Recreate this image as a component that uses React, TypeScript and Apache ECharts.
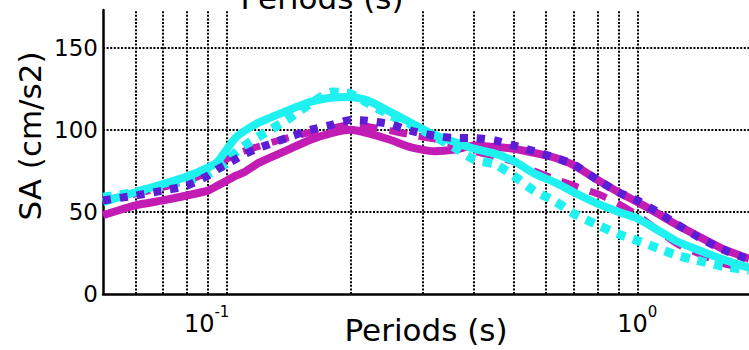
import React, { useEffect, useRef } from "react";
import * as echarts from "echarts";

// Response spectra: spectral acceleration vs. period (log axis)
const periods = [
  0.05, 0.06, 0.07, 0.08, 0.09, 0.095, 0.1, 0.105, 0.11, 0.12, 0.14, 0.16, 0.18,
  0.2, 0.22, 0.25, 0.28, 0.32, 0.36, 0.4, 0.45, 0.5, 0.56, 0.63, 0.7, 0.8, 0.9,
  1.0, 1.12, 1.25, 1.4, 1.6, 1.87,
];

const magentaSolid = [
  48, 54, 57, 60, 63, 66, 69, 72, 74, 80, 87.5, 94, 98, 100, 98, 94, 89.5, 87,
  88, 90.5, 89.5, 88.5, 86, 83, 78.5, 69.5, 62, 56, 49, 42, 35.5, 28, 21.5,
];

const magentaDashed = [
  57, 61, 65, 69, 74, 78, 82, 85, 87, 90, 95, 98.5, 101, 103, 102, 99.5, 97,
  94.5, 91, 87, 84, 80.5, 75, 70, 66, 61, 55, 48, 39, 30.5, 25, 19, 15,
];

const cyanSolid = [
  56, 62, 67, 71.5, 77, 80.5, 88, 95, 99, 104.5, 111.5, 117, 119.5, 120, 118,
  111, 104.5, 97, 92.5, 88.5, 85.5, 81, 73.5, 68, 62, 55, 50, 46, 39, 32, 27,
  21.5, 16,
];

const cyanDotted = [
  59, 62, 66, 69, 73, 76, 80, 86, 90, 96, 106, 116, 123, 122, 116.5, 109,
  103.5, 96, 89, 82, 79, 72, 63, 56.5, 49, 42, 36.5, 32.5, 28, 23.5, 20.5, 17,
  14.5,
];

const purpleDotted = [
  57, 60, 63, 66, 72, 76, 79, 82, 85, 89, 95, 100, 103, 106, 105.5, 103.5,
  99.5, 96.5, 95, 95, 93.5, 90.5, 87, 83, 79, 69.5, 62, 57, 50, 42.5, 35, 27.5,
  21,
];

// periods that get a vertical grid line (decades plus their minor steps)
const gridPeriods = [
  0.06, 0.07, 0.08, 0.09, 0.1, 0.2, 0.3, 0.4, 0.5, 0.6, 0.7, 0.8, 0.9, 1.0,
];

const X_MIN = 0.05;
const X_MAX = 1.87;
const Y_MAX = 173;
const Y_STEP = 50;

const FONT = "DejaVu Sans";
const MAGENTA = "#C21CB4";
const CYAN = "#1FF0F0";
const PURPLE = "#5B1ED6";

const pairs = (values: number[]) => periods.map((p, i) => [p, values[i]]);

const gridLine = { color: "#000", type: [2, 1.6], width: 2 };

export default function App() {
  const ref = useRef<HTMLDivElement>(null);

  useEffect(() => {
    if (!ref.current) return;
    const chart = echarts.init(ref.current, null, { renderer: "svg" });

    const lineSeries = (
      name: string,
      values: number[],
      color: string,
      dash: any,
      width: number,
      z: number
    ) => ({
      name,
      type: "line",
      data: pairs(values),
      showSymbol: false,
      symbol: "none",
      smooth: 0.2,
      z,
      lineStyle: { color, width, type: dash, cap: "butt", join: "round" },
    });

    chart.setOption({
      animation: false,
      backgroundColor: "#fff",
      grid: { left: 103, right: 0, top: 10, bottom: 56, outerBoundsMode: "none", containLabel: false },
      graphic: [
        {
          type: "text",
          x: 322,
          y: 13,
          style: {
            text: "Periods (s)",
            fontFamily: FONT,
            fontSize: 31,
            fill: "#000",
            align: "center",
            verticalAlign: "bottom",
          },
        },
      ],
      xAxis: {
        type: "log",
        logBase: 10,
        min: X_MIN,
        max: X_MAX,
        name: "Periods (s)",
        nameLocation: "middle",
        nameGap: 20,
        nameMoveOverlap: false,
        nameTextStyle: { fontFamily: FONT, fontSize: 31, color: "#000" },
        axisLine: { show: true, onZero: false, lineStyle: { color: "#000", width: 2.5 } },
        axisTick: { show: false },
        splitLine: { show: false },
        axisLabel: {
          interval: 0,
          showMinLabel: false,
          showMaxLabel: false,
          margin: 10,
          formatter: (v: number) => {
            const lg = Math.log10(v);
            const e = Math.round(lg);
            if (Math.abs(lg - e) > 1e-6) return "";
            return e < 0 ? `{b|10}{s|${e}}{g| }` : `{b|10}{s|${e}}`;
          },
          rich: {
            b: { fontFamily: FONT, fontSize: 24, color: "#000", verticalAlign: "bottom", lineHeight: 32 },
            s: { fontFamily: FONT, fontSize: 15, color: "#000", verticalAlign: "top", lineHeight: 32 },
            g: { width: 40, fontSize: 15 },
          },
        },
      },
      yAxis: {
        type: "value",
        min: 0,
        max: Y_MAX,
        interval: Y_STEP,
        name: "SA (cm/s2)",
        nameLocation: "middle",
        nameGap: 58,
        nameMoveOverlap: false,
        nameTextStyle: {
          fontFamily: FONT,
          fontSize: 31,
          color: "#000",
          padding: [0, 0, 0, 32],
        },
        axisLine: { show: true, lineStyle: { color: "#000", width: 2.5 } },
        axisTick: { show: false },
        axisLabel: {
          margin: 5,
          fontFamily: FONT,
          fontSize: 23,
          color: "#000",
          showMaxLabel: false,
          formatter: (v: number) => (v % Y_STEP === 0 ? String(v) : ""),
        },
        splitLine: {
          show: true,
          showMinLine: false,
          showMaxLine: false,
          lineStyle: gridLine,
        },
      },
      series: [
        {
          ...lineSeries("magenta solid", magentaSolid, MAGENTA, "solid", 8, 2),
          markLine: {
            silent: true,
            z: 1,
            symbol: ["none", "none"],
            label: { show: false },
            emphasis: { disabled: true },
            lineStyle: gridLine,
            data: gridPeriods.map((p) => ({ xAxis: p })),
          },
        },
        lineSeries("magenta dashed", magentaDashed, MAGENTA, [18, 12], 7, 3),
        lineSeries("cyan solid", cyanSolid, CYAN, "solid", 8, 4),
        lineSeries("cyan dotted", cyanDotted, CYAN, [9, 8], 9, 5),
        lineSeries("purple dotted", purpleDotted, PURPLE, [8, 9], 8, 6),
      ],
    });

    return () => chart.dispose();
  }, []);

  return (
    <div
      ref={ref}
      style={{ position: "fixed", left: 0, top: 0, width: 749, height: 350, background: "#fff" }}
    />
  );
}
